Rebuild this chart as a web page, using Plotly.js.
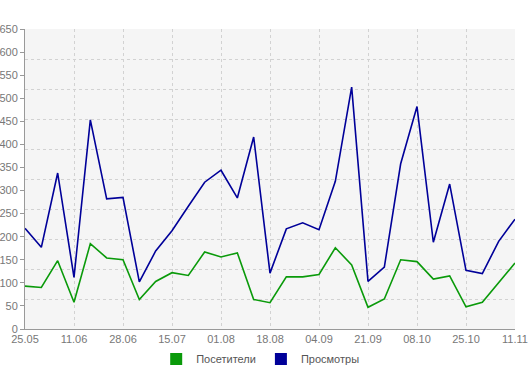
<!DOCTYPE html>
<html>
<head>
<meta charset="utf-8">
<script src="https://cdn.plot.ly/plotly-3.0.1.min.js"></script>
<style>html,body{margin:0;padding:0;background:#fff;}#chart{width:530px;height:366px;}</style>
</head>
<body>
<div id="chart"></div>
<script>
// Tick labels (every third point is labelled)
var tickLabels = ["25.05","11.06","28.06","15.07","01.08","18.08","04.09","21.09","08.10","25.10","11.11"];
// Series values (31 points)
var visitors = [93,90,148,58,185,154,150,64,103,122,116,167,156,165,64,57,113,113,118,176,139,47,65,150,146,108,115,48,58,100,143];
var views    = [218,177,338,112,453,282,285,102,169,213,266,318,344,284,416,121,217,230,215,320,524,103,134,358,482,188,314,127,120,190,238];
var seriesNames = ["Посетители","Просмотры"];
var seriesColors = ["#0a9a0a","#000099"];

var idx = visitors.map(function(_, i){ return i; });
var tickVals = tickLabels.map(function(_, i){ return i*3; });

var traces = [
  {x: idx, y: visitors, mode: 'lines', line: {color: seriesColors[0], width: 1.6}, showlegend: false, hoverinfo: 'skip'},
  {x: idx, y: views, mode: 'lines', line: {color: seriesColors[1], width: 1.6}, showlegend: false, hoverinfo: 'skip'},
  {x: [null], y: [null], mode: 'markers', name: seriesNames[0], marker: {symbol: 'square', size: 12, color: seriesColors[0]}, yaxis: 'y2'},
  {x: [null], y: [null], mode: 'markers', name: seriesNames[1], marker: {symbol: 'square', size: 12, color: seriesColors[1]}, yaxis: 'y2'}
];

var layout = {
  width: 530, height: 366,
  margin: {l: 25, r: 15, t: 29, b: 37, autoexpand: false},
  paper_bgcolor: '#ffffff',
  plot_bgcolor: '#f5f5f5',
  font: {family: 'Liberation Sans, Arial, sans-serif', size: 11, color: '#777'},
  xaxis: {
    range: [0, 30], tickvals: tickVals, ticktext: tickLabels,
    showgrid: true, gridcolor: '#d2d2d2', griddash: '3px,3px', gridwidth: 1,
    showline: true, linecolor: '#999', linewidth: 1,
    ticks: '', zeroline: false, fixedrange: true, automargin: false,
    tickfont: {size: 11, color: '#777'}
  },
  yaxis: {
    range: [0, 650], dtick: 50, tick0: 0,
    showgrid: false, showline: true, linecolor: '#999', linewidth: 1,
    ticks: 'outside', ticklen: 4, tickcolor: '#999', zeroline: false, automargin: false,
    tickfont: {size: 11, color: '#777'}, fixedrange: true
  },
  yaxis2: {
    overlaying: 'y', range: [0, 650], dtick: 65, tick0: 0,
    showgrid: true, gridcolor: '#d2d2d2', griddash: '3px,3px', gridwidth: 1,
    showticklabels: false, showline: false, zeroline: false, ticks: '', fixedrange: true
  },
  showlegend: true,
  legend: {
    orientation: 'h', x: 0.48, xanchor: 'center', y: -0.052, yanchor: 'top',
    font: {size: 11, color: '#555'}, itemwidth: 30, bgcolor: 'rgba(0,0,0,0)'
  }
};

Plotly.newPlot('chart', traces, layout, {staticPlot: true, displayModeBar: false});
</script>
</body>
</html>
